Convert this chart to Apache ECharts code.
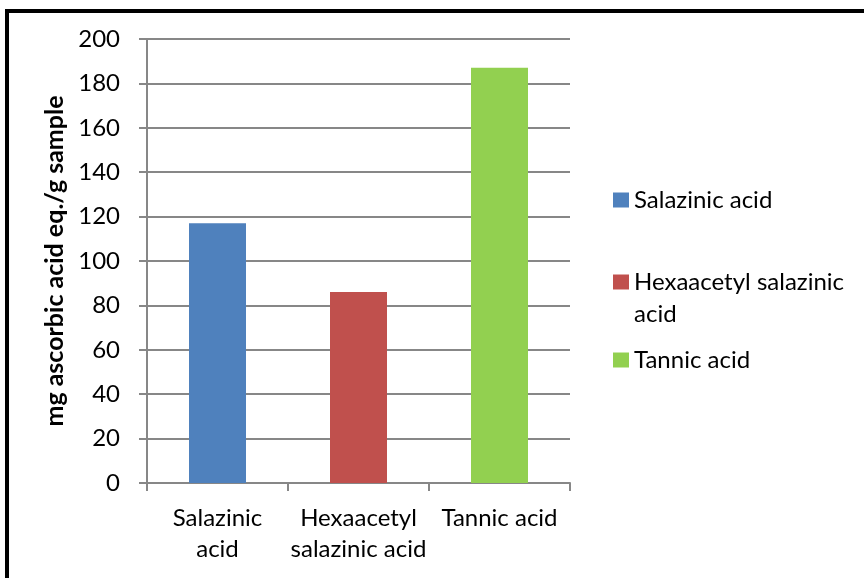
<!DOCTYPE html>
<html>
<head>
<meta charset="utf-8">
<script src="https://cdn.jsdelivr.net/npm/echarts@6/dist/echarts.min.js"></script>
<style>
  html, body { margin: 0; padding: 0; background: #fff; }
  #chart { width: 864px; height: 578px; }
</style>
</head>
<body>
<div id="chart"></div>
<script>
// Antioxidant capacity expressed as ascorbic acid equivalents
const categories = ['Salazinic\nacid', 'Hexaacetyl\nsalazinic acid', 'Tannic acid'];
const seriesNames = ['Salazinic acid', 'Hexaacetyl salazinic acid', 'Tannic acid'];
const values = [117, 86, 187];
const colors = ['#4F81BD', '#C0504D', '#92D050'];
const yTicks = { min: 0, max: 200, step: 20 };

const FONT = 'Lato';
const FS = 24;
const gridColor = '#878787';

// One series per compound so each gets its own legend entry; stacking keeps bars centred
const series = seriesNames.map((name, i) => ({
  name,
  type: 'bar',
  stack: 'all',
  barWidth: 57,
  itemStyle: { color: colors[i] },
  data: values.map((v, j) => (j === i ? v : '-'))
}));

// A leading blank line keeps the swatch level with the first line of a wrapped label
const legendCenters = [200, 282, 360];
const legendLabels = ['Salazinic acid', '\nHexaacetyl salazinic\nacid', 'Tannic acid'];
const legends = seriesNames.map((name, i) => ({
  data: [name],
  left: 613,
  top: legendCenters[i] - (i === 1 ? 48 : 16),
  icon: 'rect',
  itemWidth: 16,
  itemHeight: 15,
  itemGap: 0,
  padding: 0,
  selectedMode: false,
  formatter: () => legendLabels[i],
  textStyle: { fontFamily: FONT, fontSize: FS, color: '#000', lineHeight: 32 }
}));

const chart = echarts.init(document.getElementById('chart'), null, { renderer: 'canvas' });
chart.setOption({
  animation: false,
  backgroundColor: '#fff',
  grid: { left: 147, right: 294, top: 39, bottom: 95, containLabel: false },
  legend: legends,
  xAxis: {
    type: 'category',
    data: categories,
    axisLine: { lineStyle: { color: gridColor, width: 2 } },
    axisTick: { show: true, length: 8, alignWithLabel: false, lineStyle: { color: gridColor, width: 2 } },
    axisLabel: { fontFamily: FONT, fontSize: FS, color: '#000', lineHeight: 31, margin: 20, interval: 0 }
  },
  yAxis: {
    type: 'value',
    min: yTicks.min,
    max: yTicks.max,
    interval: yTicks.step,
    name: 'mg ascorbic acid eq./g sample',
    nameLocation: 'middle',
    nameGap: 80,
    nameTextStyle: { fontFamily: FONT, fontSize: 25, fontWeight: 'bold', color: '#000' },
    axisLine: { show: true, lineStyle: { color: gridColor, width: 2 } },
    axisTick: { show: true, length: 8, lineStyle: { color: gridColor, width: 2 } },
    axisLabel: { fontFamily: FONT, fontSize: FS, color: '#000', margin: 27 },
    splitLine: { lineStyle: { color: gridColor, width: 2 } }
  },
  graphic: [
    { type: 'rect', shape: { x: 5, y: 9, width: 4, height: 569 }, style: { fill: '#000' }, silent: true },
    { type: 'rect', shape: { x: 5, y: 9, width: 859, height: 4 }, style: { fill: '#000' }, silent: true }
  ],
  series
});
</script>
</body>
</html>
